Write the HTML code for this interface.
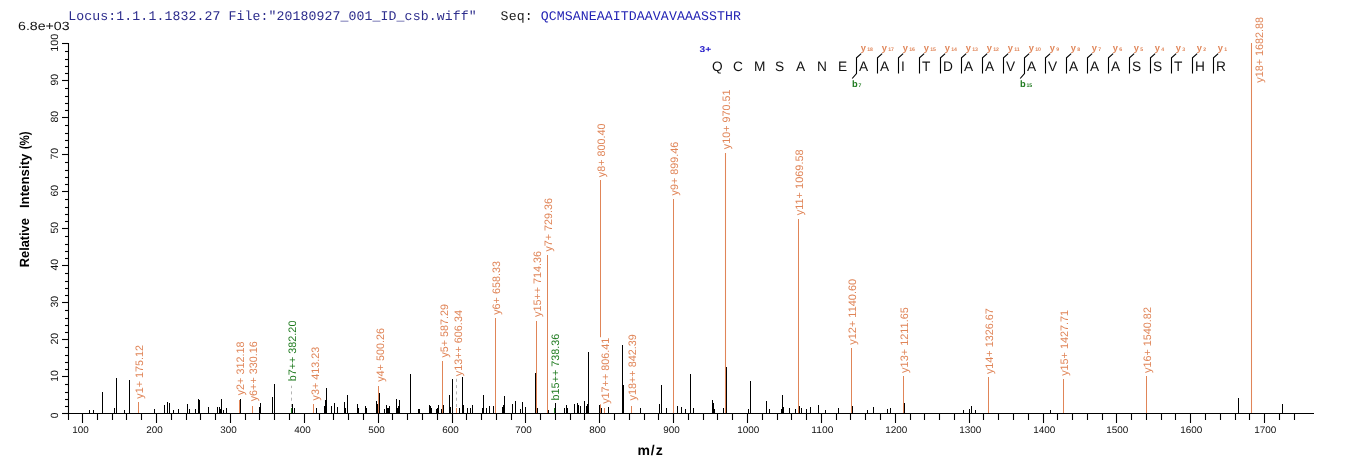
<!DOCTYPE html>
<html lang="en"><head><meta charset="utf-8"><title>MS/MS spectrum</title>
<style>html,body{margin:0;padding:0;background:#fff;}body{width:1362px;height:473px;overflow:hidden;}svg{display:block;will-change:transform;text-rendering:geometricPrecision;font-family:"Liberation Sans",sans-serif;}.mono{font-family:"Liberation Mono",monospace;}</style></head><body>
<svg width="1362" height="473" viewBox="0 0 1362 473">
<rect width="1362" height="473" fill="#fff"/>
<text class="mono" x="68.3" y="19.8" font-size="13.2" fill="#2c2c8c" xml:space="preserve" textLength="408.3" lengthAdjust="spacing">Locus:1.1.1.1832.27 File:&quot;20180927_001_ID_csb.wiff&quot;</text>
<text class="mono" x="500.6" y="19.8" font-size="13.2" fill="#1a1a1a" xml:space="preserve" textLength="32.0" lengthAdjust="spacing">Seq:</text>
<text class="mono" x="540.7" y="19.8" font-size="13.2" fill="#2222b4" xml:space="preserve" textLength="200.2" lengthAdjust="spacing">QCMSANEAAITDAAVAVAAASSTHR</text>
<text x="18" y="29.9" font-size="12" fill="#111" textLength="51.6" lengthAdjust="spacingAndGlyphs">6.8e+03</text>
<g stroke="#000" stroke-width="1.05">
<line x1="89.5" y1="414" x2="89.5" y2="410"/>
<line x1="93.5" y1="414" x2="93.5" y2="410"/>
<line x1="102.5" y1="414" x2="102.5" y2="392"/>
<line x1="114.5" y1="414" x2="114.5" y2="408"/>
<line x1="116.5" y1="414" x2="116.5" y2="378"/>
<line x1="124.5" y1="414" x2="124.5" y2="410"/>
<line x1="129.5" y1="414" x2="129.5" y2="380"/>
<line x1="154.5" y1="414" x2="154.5" y2="409"/>
<line x1="164.5" y1="414" x2="164.5" y2="405"/>
<line x1="167.5" y1="414" x2="167.5" y2="402"/>
<line x1="169.5" y1="414" x2="169.5" y2="403"/>
<line x1="173.5" y1="414" x2="173.5" y2="410"/>
<line x1="178.5" y1="414" x2="178.5" y2="409"/>
<line x1="187.5" y1="414" x2="187.5" y2="404"/>
<line x1="189.5" y1="414" x2="189.5" y2="409"/>
<line x1="195.5" y1="414" x2="195.5" y2="409"/>
<line x1="198.5" y1="414" x2="198.5" y2="399"/>
<line x1="199.5" y1="414" x2="199.5" y2="400"/>
<line x1="208.5" y1="414" x2="208.5" y2="407"/>
<line x1="217.5" y1="414" x2="217.5" y2="407"/>
<line x1="219.5" y1="414" x2="219.5" y2="407"/>
<line x1="220.5" y1="414" x2="220.5" y2="409"/>
<line x1="221.5" y1="414" x2="221.5" y2="399"/>
<line x1="223.5" y1="414" x2="223.5" y2="410"/>
<line x1="226.5" y1="414" x2="226.5" y2="408"/>
<line x1="240.5" y1="414" x2="240.5" y2="399"/>
<line x1="259.5" y1="414" x2="259.5" y2="407"/>
<line x1="260.5" y1="414" x2="260.5" y2="403"/>
<line x1="272.5" y1="414" x2="272.5" y2="397"/>
<line x1="274.5" y1="414" x2="274.5" y2="384"/>
<line x1="292.5" y1="414" x2="292.5" y2="404"/>
<line x1="294.5" y1="414" x2="294.5" y2="408"/>
<line x1="316.5" y1="414" x2="316.5" y2="408"/>
<line x1="324.5" y1="414" x2="324.5" y2="406"/>
<line x1="325.5" y1="414" x2="325.5" y2="400"/>
<line x1="326.5" y1="414" x2="326.5" y2="388"/>
<line x1="331.5" y1="414" x2="331.5" y2="406"/>
<line x1="334.5" y1="414" x2="334.5" y2="403"/>
<line x1="337.5" y1="414" x2="337.5" y2="407"/>
<line x1="344.5" y1="414" x2="344.5" y2="402"/>
<line x1="345.5" y1="414" x2="345.5" y2="408"/>
<line x1="347.5" y1="414" x2="347.5" y2="395"/>
<line x1="357.5" y1="414" x2="357.5" y2="404"/>
<line x1="358.5" y1="414" x2="358.5" y2="408"/>
<line x1="365.5" y1="414" x2="365.5" y2="406"/>
<line x1="366.5" y1="414" x2="366.5" y2="408"/>
<line x1="376.5" y1="414" x2="376.5" y2="401"/>
<line x1="377.5" y1="414" x2="377.5" y2="404"/>
<line x1="379.5" y1="414" x2="379.5" y2="393"/>
<line x1="384.5" y1="414" x2="384.5" y2="409"/>
<line x1="386.5" y1="414" x2="386.5" y2="405"/>
<line x1="387.5" y1="414" x2="387.5" y2="408"/>
<line x1="388.5" y1="414" x2="388.5" y2="408"/>
<line x1="389.5" y1="414" x2="389.5" y2="406"/>
<line x1="396.5" y1="414" x2="396.5" y2="399"/>
<line x1="397.5" y1="414" x2="397.5" y2="408"/>
<line x1="398.5" y1="414" x2="398.5" y2="406"/>
<line x1="399.5" y1="414" x2="399.5" y2="400"/>
<line x1="410.5" y1="414" x2="410.5" y2="374"/>
<line x1="418.5" y1="414" x2="418.5" y2="409"/>
<line x1="419.5" y1="414" x2="419.5" y2="409"/>
<line x1="429.5" y1="414" x2="429.5" y2="405"/>
<line x1="430.5" y1="414" x2="430.5" y2="406"/>
<line x1="431.5" y1="414" x2="431.5" y2="408"/>
<line x1="436.5" y1="414" x2="436.5" y2="409"/>
<line x1="437.5" y1="414" x2="437.5" y2="408"/>
<line x1="438.5" y1="414" x2="438.5" y2="405"/>
<line x1="441.5" y1="414" x2="441.5" y2="409"/>
<line x1="443.5" y1="414" x2="443.5" y2="405"/>
<line x1="449.5" y1="414" x2="449.5" y2="395"/>
<line x1="450.5" y1="414" x2="450.5" y2="407"/>
<line x1="452.5" y1="414" x2="452.5" y2="379"/>
<line x1="459.5" y1="414" x2="459.5" y2="408"/>
<line x1="462.5" y1="414" x2="462.5" y2="377"/>
<line x1="463.5" y1="414" x2="463.5" y2="405"/>
<line x1="467.5" y1="414" x2="467.5" y2="408"/>
<line x1="470.5" y1="414" x2="470.5" y2="408"/>
<line x1="472.5" y1="414" x2="472.5" y2="405"/>
<line x1="482.5" y1="414" x2="482.5" y2="408"/>
<line x1="483.5" y1="414" x2="483.5" y2="395"/>
<line x1="486.5" y1="414" x2="486.5" y2="408"/>
<line x1="489.5" y1="414" x2="489.5" y2="406"/>
<line x1="493.5" y1="414" x2="493.5" y2="406"/>
<line x1="502.5" y1="414" x2="502.5" y2="407"/>
<line x1="503.5" y1="414" x2="503.5" y2="405"/>
<line x1="504.5" y1="414" x2="504.5" y2="396"/>
<line x1="512.5" y1="414" x2="512.5" y2="404"/>
<line x1="515.5" y1="414" x2="515.5" y2="401"/>
<line x1="520.5" y1="414" x2="520.5" y2="409"/>
<line x1="522.5" y1="414" x2="522.5" y2="402"/>
<line x1="525.5" y1="414" x2="525.5" y2="407"/>
<line x1="535.5" y1="414" x2="535.5" y2="373"/>
<line x1="537.5" y1="414" x2="537.5" y2="408"/>
<line x1="548.5" y1="414" x2="548.5" y2="410"/>
<line x1="555.5" y1="414" x2="555.5" y2="403"/>
<line x1="564.5" y1="414" x2="564.5" y2="408"/>
<line x1="566.5" y1="414" x2="566.5" y2="405"/>
<line x1="567.5" y1="414" x2="567.5" y2="408"/>
<line x1="574.5" y1="414" x2="574.5" y2="404"/>
<line x1="577.5" y1="414" x2="577.5" y2="403"/>
<line x1="578.5" y1="414" x2="578.5" y2="405"/>
<line x1="580.5" y1="414" x2="580.5" y2="406"/>
<line x1="584.5" y1="414" x2="584.5" y2="401"/>
<line x1="586.5" y1="414" x2="586.5" y2="406"/>
<line x1="587.5" y1="414" x2="587.5" y2="404"/>
<line x1="588.5" y1="414" x2="588.5" y2="352"/>
<line x1="599.5" y1="414" x2="599.5" y2="405"/>
<line x1="601.5" y1="414" x2="601.5" y2="408"/>
<line x1="608.5" y1="414" x2="608.5" y2="407"/>
<line x1="622.5" y1="414" x2="622.5" y2="345"/>
<line x1="623.5" y1="414" x2="623.5" y2="385"/>
<line x1="640.5" y1="414" x2="640.5" y2="408"/>
<line x1="659.5" y1="414" x2="659.5" y2="404"/>
<line x1="661.5" y1="414" x2="661.5" y2="385"/>
<line x1="666.5" y1="414" x2="666.5" y2="408"/>
<line x1="677.5" y1="414" x2="677.5" y2="406"/>
<line x1="681.5" y1="414" x2="681.5" y2="407"/>
<line x1="685.5" y1="414" x2="685.5" y2="409"/>
<line x1="690.5" y1="414" x2="690.5" y2="374"/>
<line x1="693.5" y1="414" x2="693.5" y2="408"/>
<line x1="712.5" y1="414" x2="712.5" y2="400"/>
<line x1="713.5" y1="414" x2="713.5" y2="403"/>
<line x1="714.5" y1="414" x2="714.5" y2="409"/>
<line x1="723.5" y1="414" x2="723.5" y2="408"/>
<line x1="726.5" y1="414" x2="726.5" y2="367"/>
<line x1="748.5" y1="414" x2="748.5" y2="409"/>
<line x1="750.5" y1="414" x2="750.5" y2="381"/>
<line x1="766.5" y1="414" x2="766.5" y2="401"/>
<line x1="769.5" y1="414" x2="769.5" y2="409"/>
<line x1="781.5" y1="414" x2="781.5" y2="409"/>
<line x1="782.5" y1="414" x2="782.5" y2="395"/>
<line x1="783.5" y1="414" x2="783.5" y2="407"/>
<line x1="789.5" y1="414" x2="789.5" y2="408"/>
<line x1="795.5" y1="414" x2="795.5" y2="409"/>
<line x1="799.5" y1="414" x2="799.5" y2="406"/>
<line x1="801.5" y1="414" x2="801.5" y2="408"/>
<line x1="806.5" y1="414" x2="806.5" y2="409"/>
<line x1="810.5" y1="414" x2="810.5" y2="407"/>
<line x1="818.5" y1="414" x2="818.5" y2="405"/>
<line x1="825.5" y1="414" x2="825.5" y2="410"/>
<line x1="838.5" y1="414" x2="838.5" y2="408"/>
<line x1="852.5" y1="414" x2="852.5" y2="406"/>
<line x1="867.5" y1="414" x2="867.5" y2="410"/>
<line x1="873.5" y1="414" x2="873.5" y2="407"/>
<line x1="887.5" y1="414" x2="887.5" y2="409"/>
<line x1="890.5" y1="414" x2="890.5" y2="408"/>
<line x1="904.5" y1="414" x2="904.5" y2="403"/>
<line x1="963.5" y1="414" x2="963.5" y2="410"/>
<line x1="969.5" y1="414" x2="969.5" y2="409"/>
<line x1="971.5" y1="414" x2="971.5" y2="406"/>
<line x1="975.5" y1="414" x2="975.5" y2="410"/>
<line x1="1050.5" y1="414" x2="1050.5" y2="410"/>
<line x1="1238.5" y1="414" x2="1238.5" y2="398"/>
<line x1="1282.5" y1="414" x2="1282.5" y2="404"/>
</g>
<line x1="138.5" y1="414" x2="138.5" y2="402" stroke="#e08558" stroke-width="1.05"/>
<line x1="239.5" y1="414" x2="239.5" y2="400" stroke="#e08558" stroke-width="1.05"/>
<line x1="252.5" y1="414" x2="252.5" y2="406" stroke="#e08558" stroke-width="1.05"/>
<line x1="291.5" y1="414" x2="291.5" y2="408" stroke="#1e7a1e" stroke-width="1.05"/>
<line x1="291.5" y1="407" x2="291.5" y2="385.7" stroke="#b4b4b4" stroke-width="1" stroke-dasharray="3 3.3"/>
<line x1="313.5" y1="414" x2="313.5" y2="404" stroke="#e08558" stroke-width="1.05"/>
<line x1="378.5" y1="414" x2="378.5" y2="386" stroke="#e08558" stroke-width="1.05"/>
<line x1="442.5" y1="414" x2="442.5" y2="361" stroke="#e08558" stroke-width="1.05"/>
<line x1="456.5" y1="414" x2="456.5" y2="408" stroke="#e08558" stroke-width="1.05"/>
<line x1="456.5" y1="407" x2="456.5" y2="378.5" stroke="#b4b4b4" stroke-width="1" stroke-dasharray="3 3.3"/>
<line x1="495.5" y1="414" x2="495.5" y2="318" stroke="#e08558" stroke-width="1.05"/>
<line x1="536.5" y1="414" x2="536.5" y2="321" stroke="#e08558" stroke-width="1.05"/>
<line x1="547.5" y1="414" x2="547.5" y2="255" stroke="#e08558" stroke-width="1.05"/>
<line x1="554.5" y1="414" x2="554.5" y2="408" stroke="#1e7a1e" stroke-width="1.05"/>
<line x1="600.5" y1="414" x2="600.5" y2="180" stroke="#e08558" stroke-width="1.05"/>
<line x1="604.5" y1="414" x2="604.5" y2="408" stroke="#e08558" stroke-width="1.05"/>
<line x1="631.5" y1="414" x2="631.5" y2="406" stroke="#e08558" stroke-width="1.05"/>
<line x1="673.5" y1="414" x2="673.5" y2="199" stroke="#e08558" stroke-width="1.05"/>
<line x1="725.5" y1="414" x2="725.5" y2="153" stroke="#e08558" stroke-width="1.05"/>
<line x1="798.5" y1="414" x2="798.5" y2="219" stroke="#e08558" stroke-width="1.05"/>
<line x1="851.5" y1="414" x2="851.5" y2="348" stroke="#e08558" stroke-width="1.05"/>
<line x1="903.5" y1="414" x2="903.5" y2="376" stroke="#e08558" stroke-width="1.05"/>
<line x1="988.5" y1="414" x2="988.5" y2="377" stroke="#e08558" stroke-width="1.05"/>
<line x1="1063.5" y1="414" x2="1063.5" y2="379" stroke="#e08558" stroke-width="1.05"/>
<line x1="1146.5" y1="414" x2="1146.5" y2="376" stroke="#e08558" stroke-width="1.05"/>
<line x1="1251.5" y1="414" x2="1251.5" y2="43" stroke="#e08558" stroke-width="1.05"/>
<rect x="133.4" y="344.5" width="12.7" height="54.7" fill="#fff"/>
<rect x="234.0" y="341.1" width="12.7" height="54.7" fill="#fff"/>
<rect x="246.7" y="340.8" width="12.7" height="61.0" fill="#fff"/>
<rect x="286.1" y="320.1" width="12.7" height="61.7" fill="#fff"/>
<rect x="309.4" y="346.2" width="12.7" height="54.7" fill="#fff"/>
<rect x="374.0" y="327.6" width="12.7" height="54.7" fill="#fff"/>
<rect x="438.0" y="303.4" width="12.7" height="54.7" fill="#fff"/>
<rect x="452.0" y="309.6" width="12.7" height="67.1" fill="#fff"/>
<rect x="490.3" y="260.6" width="12.7" height="54.7" fill="#fff"/>
<rect x="531.6" y="250.4" width="12.7" height="67.1" fill="#fff"/>
<rect x="542.4" y="197.4" width="12.7" height="54.7" fill="#fff"/>
<rect x="549.2" y="333.2" width="12.7" height="67.7" fill="#fff"/>
<rect x="595.6" y="123.0" width="12.7" height="54.7" fill="#fff"/>
<rect x="599.6" y="337.2" width="12.7" height="67.1" fill="#fff"/>
<rect x="625.8" y="333.8" width="12.7" height="67.1" fill="#fff"/>
<rect x="668.4" y="141.3" width="12.7" height="54.7" fill="#fff"/>
<rect x="720.4" y="89.0" width="12.7" height="60.7" fill="#fff"/>
<rect x="793.5" y="148.9" width="12.7" height="66.8" fill="#fff"/>
<rect x="846.3" y="278.4" width="12.7" height="66.8" fill="#fff"/>
<rect x="898.5" y="306.6" width="12.7" height="66.8" fill="#fff"/>
<rect x="983.5" y="307.8" width="12.7" height="66.8" fill="#fff"/>
<rect x="1058.4" y="309.5" width="12.7" height="66.8" fill="#fff"/>
<rect x="1141.4" y="306.6" width="12.7" height="66.8" fill="#fff"/>
<rect x="1253.5" y="16.4" width="12.7" height="66.8" fill="#fff"/>
<text transform="translate(143.2,398.7) rotate(-90)" font-size="10.8" fill="#e08558" textLength="53.7" lengthAdjust="spacingAndGlyphs">y1+ 175.12</text>
<text transform="translate(243.8,395.3) rotate(-90)" font-size="10.8" fill="#e08558" textLength="53.7" lengthAdjust="spacingAndGlyphs">y2+ 312.18</text>
<text transform="translate(256.5,401.3) rotate(-90)" font-size="10.8" fill="#e08558" textLength="60.0" lengthAdjust="spacingAndGlyphs">y6++ 330.16</text>
<text transform="translate(295.9,381.3) rotate(-90)" font-size="10.8" fill="#1e7a1e" textLength="60.7" lengthAdjust="spacingAndGlyphs">b7++ 382.20</text>
<text transform="translate(319.2,400.4) rotate(-90)" font-size="10.8" fill="#e08558" textLength="53.7" lengthAdjust="spacingAndGlyphs">y3+ 413.23</text>
<text transform="translate(383.8,381.8) rotate(-90)" font-size="10.8" fill="#e08558" textLength="53.7" lengthAdjust="spacingAndGlyphs">y4+ 500.26</text>
<text transform="translate(447.8,357.6) rotate(-90)" font-size="10.8" fill="#e08558" textLength="53.7" lengthAdjust="spacingAndGlyphs">y5+ 587.29</text>
<text transform="translate(461.8,376.2) rotate(-90)" font-size="10.8" fill="#e08558" textLength="66.1" lengthAdjust="spacingAndGlyphs">y13++ 606.34</text>
<text transform="translate(500.1,314.8) rotate(-90)" font-size="10.8" fill="#e08558" textLength="53.7" lengthAdjust="spacingAndGlyphs">y6+ 658.33</text>
<text transform="translate(541.4,317.0) rotate(-90)" font-size="10.8" fill="#e08558" textLength="66.1" lengthAdjust="spacingAndGlyphs">y15++ 714.36</text>
<text transform="translate(552.2,251.6) rotate(-90)" font-size="10.8" fill="#e08558" textLength="53.7" lengthAdjust="spacingAndGlyphs">y7+ 729.36</text>
<text transform="translate(559.0,400.4) rotate(-90)" font-size="10.8" fill="#1e7a1e" textLength="66.7" lengthAdjust="spacingAndGlyphs">b15++ 738.36</text>
<text transform="translate(605.4,177.2) rotate(-90)" font-size="10.8" fill="#e08558" textLength="53.7" lengthAdjust="spacingAndGlyphs">y8+ 800.40</text>
<text transform="translate(609.4,403.8) rotate(-90)" font-size="10.8" fill="#e08558" textLength="66.1" lengthAdjust="spacingAndGlyphs">y17++ 806.41</text>
<text transform="translate(635.6,400.4) rotate(-90)" font-size="10.8" fill="#e08558" textLength="66.1" lengthAdjust="spacingAndGlyphs">y18++ 842.39</text>
<text transform="translate(678.2,195.5) rotate(-90)" font-size="10.8" fill="#e08558" textLength="53.7" lengthAdjust="spacingAndGlyphs">y9+ 899.46</text>
<text transform="translate(730.2,149.2) rotate(-90)" font-size="10.8" fill="#e08558" textLength="59.7" lengthAdjust="spacingAndGlyphs">y10+ 970.51</text>
<text transform="translate(803.3,215.2) rotate(-90)" font-size="10.8" fill="#e08558" textLength="65.8" lengthAdjust="spacingAndGlyphs">y11+ 1069.58</text>
<text transform="translate(856.1,344.7) rotate(-90)" font-size="10.8" fill="#e08558" textLength="65.8" lengthAdjust="spacingAndGlyphs">y12+ 1140.60</text>
<text transform="translate(908.3,372.9) rotate(-90)" font-size="10.8" fill="#e08558" textLength="65.8" lengthAdjust="spacingAndGlyphs">y13+ 1211.65</text>
<text transform="translate(993.3,374.1) rotate(-90)" font-size="10.8" fill="#e08558" textLength="65.8" lengthAdjust="spacingAndGlyphs">y14+ 1326.67</text>
<text transform="translate(1068.2,375.8) rotate(-90)" font-size="10.8" fill="#e08558" textLength="65.8" lengthAdjust="spacingAndGlyphs">y15+ 1427.71</text>
<text transform="translate(1151.2,372.9) rotate(-90)" font-size="10.8" fill="#e08558" textLength="65.8" lengthAdjust="spacingAndGlyphs">y16+ 1540.82</text>
<text transform="translate(1263.3,82.7) rotate(-90)" font-size="10.8" fill="#e08558" textLength="65.8" lengthAdjust="spacingAndGlyphs">y18+ 1682.88</text>
<g stroke="#000" stroke-width="1.1" fill="none">
<line x1="68.5" y1="43" x2="68.5" y2="420"/>
<line x1="62" y1="413.5" x2="1314" y2="413.5"/>
<line x1="62" y1="43.5" x2="68.5" y2="43.5"/>
<line x1="65" y1="51.5" x2="68.5" y2="51.5"/>
<line x1="65" y1="59.5" x2="68.5" y2="59.5"/>
<line x1="65" y1="66.5" x2="68.5" y2="66.5"/>
<line x1="65" y1="73.5" x2="68.5" y2="73.5"/>
<line x1="62" y1="80.5" x2="68.5" y2="80.5"/>
<line x1="65" y1="88.5" x2="68.5" y2="88.5"/>
<line x1="65" y1="96.5" x2="68.5" y2="96.5"/>
<line x1="65" y1="103.5" x2="68.5" y2="103.5"/>
<line x1="65" y1="110.5" x2="68.5" y2="110.5"/>
<line x1="62" y1="117.5" x2="68.5" y2="117.5"/>
<line x1="65" y1="125.5" x2="68.5" y2="125.5"/>
<line x1="65" y1="133.5" x2="68.5" y2="133.5"/>
<line x1="65" y1="140.5" x2="68.5" y2="140.5"/>
<line x1="65" y1="147.5" x2="68.5" y2="147.5"/>
<line x1="62" y1="154.5" x2="68.5" y2="154.5"/>
<line x1="65" y1="162.5" x2="68.5" y2="162.5"/>
<line x1="65" y1="170.5" x2="68.5" y2="170.5"/>
<line x1="65" y1="177.5" x2="68.5" y2="177.5"/>
<line x1="65" y1="184.5" x2="68.5" y2="184.5"/>
<line x1="62" y1="191.5" x2="68.5" y2="191.5"/>
<line x1="65" y1="199.5" x2="68.5" y2="199.5"/>
<line x1="65" y1="207.5" x2="68.5" y2="207.5"/>
<line x1="65" y1="214.5" x2="68.5" y2="214.5"/>
<line x1="65" y1="221.5" x2="68.5" y2="221.5"/>
<line x1="62" y1="228.5" x2="68.5" y2="228.5"/>
<line x1="65" y1="236.5" x2="68.5" y2="236.5"/>
<line x1="65" y1="244.5" x2="68.5" y2="244.5"/>
<line x1="65" y1="251.5" x2="68.5" y2="251.5"/>
<line x1="65" y1="258.5" x2="68.5" y2="258.5"/>
<line x1="62" y1="265.5" x2="68.5" y2="265.5"/>
<line x1="65" y1="273.5" x2="68.5" y2="273.5"/>
<line x1="65" y1="281.5" x2="68.5" y2="281.5"/>
<line x1="65" y1="288.5" x2="68.5" y2="288.5"/>
<line x1="65" y1="295.5" x2="68.5" y2="295.5"/>
<line x1="62" y1="302.5" x2="68.5" y2="302.5"/>
<line x1="65" y1="310.5" x2="68.5" y2="310.5"/>
<line x1="65" y1="318.5" x2="68.5" y2="318.5"/>
<line x1="65" y1="325.5" x2="68.5" y2="325.5"/>
<line x1="65" y1="332.5" x2="68.5" y2="332.5"/>
<line x1="62" y1="339.5" x2="68.5" y2="339.5"/>
<line x1="65" y1="347.5" x2="68.5" y2="347.5"/>
<line x1="65" y1="355.5" x2="68.5" y2="355.5"/>
<line x1="65" y1="362.5" x2="68.5" y2="362.5"/>
<line x1="65" y1="369.5" x2="68.5" y2="369.5"/>
<line x1="62" y1="376.5" x2="68.5" y2="376.5"/>
<line x1="65" y1="384.5" x2="68.5" y2="384.5"/>
<line x1="65" y1="392.5" x2="68.5" y2="392.5"/>
<line x1="65" y1="399.5" x2="68.5" y2="399.5"/>
<line x1="65" y1="406.5" x2="68.5" y2="406.5"/>
<line x1="62" y1="413.5" x2="68.5" y2="413.5"/>
<line x1="82.5" y1="413.5" x2="82.5" y2="423"/>
<line x1="97.5" y1="413.5" x2="97.5" y2="420"/>
<line x1="112.5" y1="413.5" x2="112.5" y2="420"/>
<line x1="126.5" y1="413.5" x2="126.5" y2="420"/>
<line x1="141.5" y1="413.5" x2="141.5" y2="420"/>
<line x1="156.5" y1="413.5" x2="156.5" y2="423"/>
<line x1="171.5" y1="413.5" x2="171.5" y2="420"/>
<line x1="186.5" y1="413.5" x2="186.5" y2="420"/>
<line x1="200.5" y1="413.5" x2="200.5" y2="420"/>
<line x1="215.5" y1="413.5" x2="215.5" y2="420"/>
<line x1="230.5" y1="413.5" x2="230.5" y2="423"/>
<line x1="245.5" y1="413.5" x2="245.5" y2="420"/>
<line x1="259.5" y1="413.5" x2="259.5" y2="420"/>
<line x1="274.5" y1="413.5" x2="274.5" y2="420"/>
<line x1="289.5" y1="413.5" x2="289.5" y2="420"/>
<line x1="304.5" y1="413.5" x2="304.5" y2="423"/>
<line x1="319.5" y1="413.5" x2="319.5" y2="420"/>
<line x1="333.5" y1="413.5" x2="333.5" y2="420"/>
<line x1="348.5" y1="413.5" x2="348.5" y2="420"/>
<line x1="363.5" y1="413.5" x2="363.5" y2="420"/>
<line x1="378.5" y1="413.5" x2="378.5" y2="423"/>
<line x1="392.5" y1="413.5" x2="392.5" y2="420"/>
<line x1="407.5" y1="413.5" x2="407.5" y2="420"/>
<line x1="422.5" y1="413.5" x2="422.5" y2="420"/>
<line x1="437.5" y1="413.5" x2="437.5" y2="420"/>
<line x1="452.5" y1="413.5" x2="452.5" y2="423"/>
<line x1="466.5" y1="413.5" x2="466.5" y2="420"/>
<line x1="481.5" y1="413.5" x2="481.5" y2="420"/>
<line x1="496.5" y1="413.5" x2="496.5" y2="420"/>
<line x1="511.5" y1="413.5" x2="511.5" y2="420"/>
<line x1="525.5" y1="413.5" x2="525.5" y2="423"/>
<line x1="540.5" y1="413.5" x2="540.5" y2="420"/>
<line x1="555.5" y1="413.5" x2="555.5" y2="420"/>
<line x1="570.5" y1="413.5" x2="570.5" y2="420"/>
<line x1="584.5" y1="413.5" x2="584.5" y2="420"/>
<line x1="599.5" y1="413.5" x2="599.5" y2="423"/>
<line x1="614.5" y1="413.5" x2="614.5" y2="420"/>
<line x1="629.5" y1="413.5" x2="629.5" y2="420"/>
<line x1="644.5" y1="413.5" x2="644.5" y2="420"/>
<line x1="658.5" y1="413.5" x2="658.5" y2="420"/>
<line x1="673.5" y1="413.5" x2="673.5" y2="423"/>
<line x1="688.5" y1="413.5" x2="688.5" y2="420"/>
<line x1="703.5" y1="413.5" x2="703.5" y2="420"/>
<line x1="717.5" y1="413.5" x2="717.5" y2="420"/>
<line x1="732.5" y1="413.5" x2="732.5" y2="420"/>
<line x1="747.5" y1="413.5" x2="747.5" y2="423"/>
<line x1="762.5" y1="413.5" x2="762.5" y2="420"/>
<line x1="777.5" y1="413.5" x2="777.5" y2="420"/>
<line x1="791.5" y1="413.5" x2="791.5" y2="420"/>
<line x1="806.5" y1="413.5" x2="806.5" y2="420"/>
<line x1="821.5" y1="413.5" x2="821.5" y2="423"/>
<line x1="836.5" y1="413.5" x2="836.5" y2="420"/>
<line x1="850.5" y1="413.5" x2="850.5" y2="420"/>
<line x1="865.5" y1="413.5" x2="865.5" y2="420"/>
<line x1="880.5" y1="413.5" x2="880.5" y2="420"/>
<line x1="895.5" y1="413.5" x2="895.5" y2="423"/>
<line x1="910.5" y1="413.5" x2="910.5" y2="420"/>
<line x1="924.5" y1="413.5" x2="924.5" y2="420"/>
<line x1="939.5" y1="413.5" x2="939.5" y2="420"/>
<line x1="954.5" y1="413.5" x2="954.5" y2="420"/>
<line x1="969.5" y1="413.5" x2="969.5" y2="423"/>
<line x1="983.5" y1="413.5" x2="983.5" y2="420"/>
<line x1="998.5" y1="413.5" x2="998.5" y2="420"/>
<line x1="1013.5" y1="413.5" x2="1013.5" y2="420"/>
<line x1="1028.5" y1="413.5" x2="1028.5" y2="420"/>
<line x1="1043.5" y1="413.5" x2="1043.5" y2="423"/>
<line x1="1057.5" y1="413.5" x2="1057.5" y2="420"/>
<line x1="1072.5" y1="413.5" x2="1072.5" y2="420"/>
<line x1="1087.5" y1="413.5" x2="1087.5" y2="420"/>
<line x1="1102.5" y1="413.5" x2="1102.5" y2="420"/>
<line x1="1116.5" y1="413.5" x2="1116.5" y2="423"/>
<line x1="1131.5" y1="413.5" x2="1131.5" y2="420"/>
<line x1="1146.5" y1="413.5" x2="1146.5" y2="420"/>
<line x1="1161.5" y1="413.5" x2="1161.5" y2="420"/>
<line x1="1175.5" y1="413.5" x2="1175.5" y2="420"/>
<line x1="1190.5" y1="413.5" x2="1190.5" y2="423"/>
<line x1="1205.5" y1="413.5" x2="1205.5" y2="420"/>
<line x1="1220.5" y1="413.5" x2="1220.5" y2="420"/>
<line x1="1235.5" y1="413.5" x2="1235.5" y2="420"/>
<line x1="1249.5" y1="413.5" x2="1249.5" y2="420"/>
<line x1="1264.5" y1="413.5" x2="1264.5" y2="423"/>
<line x1="1279.5" y1="413.5" x2="1279.5" y2="420"/>
<line x1="1294.5" y1="413.5" x2="1294.5" y2="420"/>
</g>
<text transform="translate(58.1,418.3) rotate(-90)" font-size="10.5" fill="#111" textLength="5.7" lengthAdjust="spacingAndGlyphs">0</text>
<text transform="translate(58.1,381.8) rotate(-90)" font-size="10.5" fill="#111" textLength="11.6" lengthAdjust="spacingAndGlyphs">10</text>
<text transform="translate(58.1,344.6) rotate(-90)" font-size="10.5" fill="#111" textLength="11.6" lengthAdjust="spacingAndGlyphs">20</text>
<text transform="translate(58.1,307.6) rotate(-90)" font-size="10.5" fill="#111" textLength="11.6" lengthAdjust="spacingAndGlyphs">30</text>
<text transform="translate(58.1,270.6) rotate(-90)" font-size="10.5" fill="#111" textLength="11.6" lengthAdjust="spacingAndGlyphs">40</text>
<text transform="translate(58.1,233.6) rotate(-90)" font-size="10.5" fill="#111" textLength="11.6" lengthAdjust="spacingAndGlyphs">50</text>
<text transform="translate(58.1,196.6) rotate(-90)" font-size="10.5" fill="#111" textLength="11.6" lengthAdjust="spacingAndGlyphs">60</text>
<text transform="translate(58.1,159.6) rotate(-90)" font-size="10.5" fill="#111" textLength="11.6" lengthAdjust="spacingAndGlyphs">70</text>
<text transform="translate(58.1,122.6) rotate(-90)" font-size="10.5" fill="#111" textLength="11.6" lengthAdjust="spacingAndGlyphs">80</text>
<text transform="translate(58.1,85.6) rotate(-90)" font-size="10.5" fill="#111" textLength="11.6" lengthAdjust="spacingAndGlyphs">90</text>
<text transform="translate(58.1,51.8) rotate(-90)" font-size="10.5" fill="#111" textLength="18.0" lengthAdjust="spacingAndGlyphs">100</text>
<text transform="translate(72.3,432.9) scale(1,0.95)" font-size="10" fill="#111" textLength="16.5" lengthAdjust="spacingAndGlyphs">100</text>
<text transform="translate(146.3,432.9) scale(1,0.95)" font-size="10" fill="#111" textLength="16.5" lengthAdjust="spacingAndGlyphs">200</text>
<text transform="translate(220.3,432.9) scale(1,0.95)" font-size="10" fill="#111" textLength="16.5" lengthAdjust="spacingAndGlyphs">300</text>
<text transform="translate(294.3,432.9) scale(1,0.95)" font-size="10" fill="#111" textLength="16.5" lengthAdjust="spacingAndGlyphs">400</text>
<text transform="translate(368.3,432.9) scale(1,0.95)" font-size="10" fill="#111" textLength="16.5" lengthAdjust="spacingAndGlyphs">500</text>
<text transform="translate(442.3,432.9) scale(1,0.95)" font-size="10" fill="#111" textLength="16.5" lengthAdjust="spacingAndGlyphs">600</text>
<text transform="translate(515.3,432.9) scale(1,0.95)" font-size="10" fill="#111" textLength="16.5" lengthAdjust="spacingAndGlyphs">700</text>
<text transform="translate(589.3,432.9) scale(1,0.95)" font-size="10" fill="#111" textLength="16.5" lengthAdjust="spacingAndGlyphs">800</text>
<text transform="translate(663.3,432.9) scale(1,0.95)" font-size="10" fill="#111" textLength="16.5" lengthAdjust="spacingAndGlyphs">900</text>
<text transform="translate(737.3,432.9) scale(1,0.95)" font-size="10" fill="#111" textLength="22.1" lengthAdjust="spacingAndGlyphs">1000</text>
<text transform="translate(811.3,432.9) scale(1,0.95)" font-size="10" fill="#111" textLength="22.1" lengthAdjust="spacingAndGlyphs">1100</text>
<text transform="translate(885.3,432.9) scale(1,0.95)" font-size="10" fill="#111" textLength="22.1" lengthAdjust="spacingAndGlyphs">1200</text>
<text transform="translate(959.3,432.9) scale(1,0.95)" font-size="10" fill="#111" textLength="22.1" lengthAdjust="spacingAndGlyphs">1300</text>
<text transform="translate(1033.3,432.9) scale(1,0.95)" font-size="10" fill="#111" textLength="22.1" lengthAdjust="spacingAndGlyphs">1400</text>
<text transform="translate(1106.3,432.9) scale(1,0.95)" font-size="10" fill="#111" textLength="22.1" lengthAdjust="spacingAndGlyphs">1500</text>
<text transform="translate(1180.3,432.9) scale(1,0.95)" font-size="10" fill="#111" textLength="22.1" lengthAdjust="spacingAndGlyphs">1600</text>
<text transform="translate(1254.3,432.9) scale(1,0.95)" font-size="10" fill="#111" textLength="22.1" lengthAdjust="spacingAndGlyphs">1700</text>
<text x="637.4" y="455.3" font-size="14" font-weight="bold" fill="#000" textLength="25.3" lengthAdjust="spacing">m/z</text>
<text transform="translate(29.0,267.2) rotate(-90)" font-size="13.33" font-weight="bold" fill="#000" textLength="49.0" lengthAdjust="spacingAndGlyphs">Relative</text>
<text transform="translate(29.0,208.1) rotate(-90)" font-size="13.33" font-weight="bold" fill="#000" textLength="54.6" lengthAdjust="spacingAndGlyphs">Intensity</text>
<text transform="translate(29.0,149.3) rotate(-90)" font-size="13.33" font-weight="bold" fill="#000" textLength="17.9" lengthAdjust="spacingAndGlyphs">(%)</text>
<text x="699.5" y="52.2" font-size="8.5" font-weight="bold" fill="#1e14c8" textLength="11.7" lengthAdjust="spacingAndGlyphs">3+</text>
<g font-size="13.7" fill="#111">
<text x="712.0" y="70.8">Q</text>
<text x="733.0" y="70.8">C</text>
<text x="754.0" y="70.8">M</text>
<text x="775.0" y="70.8">S</text>
<text x="796.0" y="70.8">A</text>
<text x="817.0" y="70.8">N</text>
<text x="838.0" y="70.8">E</text>
<text x="859.0" y="70.8">A</text>
<text x="880.0" y="70.8">A</text>
<text x="901.0" y="70.8">I</text>
<text x="922.0" y="70.8">T</text>
<text x="943.0" y="70.8">D</text>
<text x="964.0" y="70.8">A</text>
<text x="985.0" y="70.8">A</text>
<text x="1006.0" y="70.8">V</text>
<text x="1027.0" y="70.8">A</text>
<text x="1048.0" y="70.8">V</text>
<text x="1069.0" y="70.8">A</text>
<text x="1090.0" y="70.8">A</text>
<text x="1111.0" y="70.8">A</text>
<text x="1132.0" y="70.8">S</text>
<text x="1153.0" y="70.8">S</text>
<text x="1174.0" y="70.8">T</text>
<text x="1195.0" y="70.8">H</text>
<text x="1216.0" y="70.8">R</text>
</g>
<polyline points="861.2,53.7 856.5,57.8 856.5,73.5 852.2,78.5" fill="none" stroke="#000" stroke-width="1.1"/>
<text x="860.8" y="50.7" font-size="9.3" font-weight="bold" fill="#e08558">y<tspan font-size="5.2" dx="1.2" dy="0">18</tspan></text>
<polyline points="882.2,53.7 877.5,57.8 877.5,73.5" fill="none" stroke="#000" stroke-width="1.1"/>
<text x="881.8" y="50.7" font-size="9.3" font-weight="bold" fill="#e08558">y<tspan font-size="5.2" dx="1.2" dy="0">17</tspan></text>
<polyline points="903.2,53.7 898.5,57.8 898.5,73.5" fill="none" stroke="#000" stroke-width="1.1"/>
<text x="902.8" y="50.7" font-size="9.3" font-weight="bold" fill="#e08558">y<tspan font-size="5.2" dx="1.2" dy="0">16</tspan></text>
<polyline points="924.2,53.7 919.5,57.8 919.5,73.5" fill="none" stroke="#000" stroke-width="1.1"/>
<text x="923.8" y="50.7" font-size="9.3" font-weight="bold" fill="#e08558">y<tspan font-size="5.2" dx="1.2" dy="0">15</tspan></text>
<polyline points="945.2,53.7 940.5,57.8 940.5,73.5" fill="none" stroke="#000" stroke-width="1.1"/>
<text x="944.8" y="50.7" font-size="9.3" font-weight="bold" fill="#e08558">y<tspan font-size="5.2" dx="1.2" dy="0">14</tspan></text>
<polyline points="966.2,53.7 961.5,57.8 961.5,73.5" fill="none" stroke="#000" stroke-width="1.1"/>
<text x="965.8" y="50.7" font-size="9.3" font-weight="bold" fill="#e08558">y<tspan font-size="5.2" dx="1.2" dy="0">13</tspan></text>
<polyline points="987.2,53.7 982.5,57.8 982.5,73.5" fill="none" stroke="#000" stroke-width="1.1"/>
<text x="986.8" y="50.7" font-size="9.3" font-weight="bold" fill="#e08558">y<tspan font-size="5.2" dx="1.2" dy="0">12</tspan></text>
<polyline points="1008.2,53.7 1003.5,57.8 1003.5,73.5" fill="none" stroke="#000" stroke-width="1.1"/>
<text x="1007.8" y="50.7" font-size="9.3" font-weight="bold" fill="#e08558">y<tspan font-size="5.2" dx="1.2" dy="0">11</tspan></text>
<polyline points="1029.2,53.7 1024.5,57.8 1024.5,73.5 1020.2,78.5" fill="none" stroke="#000" stroke-width="1.1"/>
<text x="1028.8" y="50.7" font-size="9.3" font-weight="bold" fill="#e08558">y<tspan font-size="5.2" dx="1.2" dy="0">10</tspan></text>
<polyline points="1050.2,53.7 1045.5,57.8 1045.5,73.5" fill="none" stroke="#000" stroke-width="1.1"/>
<text x="1049.8" y="50.7" font-size="9.3" font-weight="bold" fill="#e08558">y<tspan font-size="5.2" dx="1.2" dy="0">9</tspan></text>
<polyline points="1071.2,53.7 1066.5,57.8 1066.5,73.5" fill="none" stroke="#000" stroke-width="1.1"/>
<text x="1070.8" y="50.7" font-size="9.3" font-weight="bold" fill="#e08558">y<tspan font-size="5.2" dx="1.2" dy="0">8</tspan></text>
<polyline points="1092.2,53.7 1087.5,57.8 1087.5,73.5" fill="none" stroke="#000" stroke-width="1.1"/>
<text x="1091.8" y="50.7" font-size="9.3" font-weight="bold" fill="#e08558">y<tspan font-size="5.2" dx="1.2" dy="0">7</tspan></text>
<polyline points="1113.2,53.7 1108.5,57.8 1108.5,73.5" fill="none" stroke="#000" stroke-width="1.1"/>
<text x="1112.8" y="50.7" font-size="9.3" font-weight="bold" fill="#e08558">y<tspan font-size="5.2" dx="1.2" dy="0">6</tspan></text>
<polyline points="1134.2,53.7 1129.5,57.8 1129.5,73.5" fill="none" stroke="#000" stroke-width="1.1"/>
<text x="1133.8" y="50.7" font-size="9.3" font-weight="bold" fill="#e08558">y<tspan font-size="5.2" dx="1.2" dy="0">5</tspan></text>
<polyline points="1155.2,53.7 1150.5,57.8 1150.5,73.5" fill="none" stroke="#000" stroke-width="1.1"/>
<text x="1154.8" y="50.7" font-size="9.3" font-weight="bold" fill="#e08558">y<tspan font-size="5.2" dx="1.2" dy="0">4</tspan></text>
<polyline points="1176.2,53.7 1171.5,57.8 1171.5,73.5" fill="none" stroke="#000" stroke-width="1.1"/>
<text x="1175.8" y="50.7" font-size="9.3" font-weight="bold" fill="#e08558">y<tspan font-size="5.2" dx="1.2" dy="0">3</tspan></text>
<polyline points="1197.2,53.7 1192.5,57.8 1192.5,73.5" fill="none" stroke="#000" stroke-width="1.1"/>
<text x="1196.8" y="50.7" font-size="9.3" font-weight="bold" fill="#e08558">y<tspan font-size="5.2" dx="1.2" dy="0">2</tspan></text>
<polyline points="1218.2,53.7 1213.5,57.8 1213.5,73.5" fill="none" stroke="#000" stroke-width="1.1"/>
<text x="1217.8" y="50.7" font-size="9.3" font-weight="bold" fill="#e08558">y<tspan font-size="5.2" dx="1.2" dy="0">1</tspan></text>
<text x="852.1" y="86.6" font-size="9.3" font-weight="bold" fill="#1e7a1e">b<tspan font-size="5.2" dx="0.6" dy="0">7</tspan></text>
<text x="1020.1" y="86.6" font-size="9.3" font-weight="bold" fill="#1e7a1e">b<tspan font-size="5.2" dx="0.6" dy="0">15</tspan></text>
</svg></body></html>
